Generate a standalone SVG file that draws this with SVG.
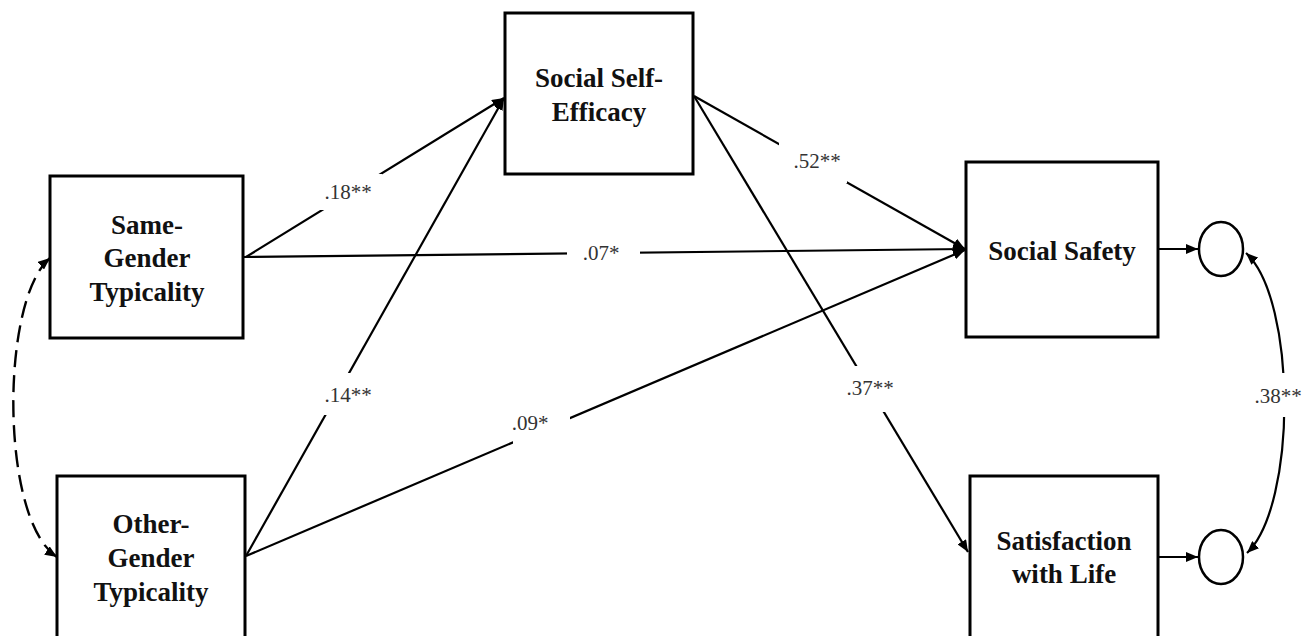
<svg xmlns="http://www.w3.org/2000/svg" width="1307" height="636" viewBox="0 0 1307 636">
<style>
.box{fill:#fff;stroke:#000;stroke-width:3}
.nt{font-family:"Liberation Serif","Times New Roman",serif;font-weight:bold;font-size:27px;fill:#111;text-anchor:middle}
.lbl{font-family:"Liberation Serif","Times New Roman",serif;font-size:21px;fill:#333;text-anchor:middle}
.ln{fill:none;stroke:#000;stroke-width:2.2}
.dash{fill:none;stroke:#000;stroke-width:2.4;stroke-dasharray:17 8}
.bg{fill:#fff;stroke:none}
.circ{fill:#fff;stroke:#000;stroke-width:2.5}
</style>
<defs>
<marker id="ah" viewBox="0 0 12 10" refX="12" refY="5" markerWidth="12" markerHeight="10" markerUnits="userSpaceOnUse" orient="auto-start-reverse">
<path d="M0,0 L12,5 L0,10 z" fill="#000"/>
</marker>
</defs>
<rect width="1307" height="636" fill="#fff"/>
<g id="connectors">
<line class="ln" x1="246" y1="257" x2="504" y2="98" marker-end="url(#ah)"/>
<line class="ln" x1="246" y1="556" x2="504" y2="98" marker-end="url(#ah)"/>
<line class="ln" x1="244" y1="257" x2="965" y2="249" marker-end="url(#ah)"/>
<line class="ln" x1="246" y1="556" x2="965" y2="250" marker-end="url(#ah)"/>
<line class="ln" x1="694" y1="96" x2="965" y2="249" marker-end="url(#ah)"/>
<line class="ln" x1="694" y1="96" x2="968" y2="552" marker-end="url(#ah)"/>
<line class="ln" x1="1158" y1="249" x2="1198" y2="249" marker-end="url(#ah)"/>
<line class="ln" x1="1158" y1="557" x2="1198" y2="557" marker-end="url(#ah)"/>
<path class="ln" d="M1246,253 C1297,300 1297,505 1247,553" marker-start="url(#ah)" marker-end="url(#ah)"/>
<path class="dash" d="M50,258 C0,300 0,520 57,557" marker-start="url(#ah)" marker-end="url(#ah)"/>
<rect class="bg" x="317" y="174" width="65" height="36"/>
<rect class="bg" x="567" y="240" width="73" height="28"/>
<rect class="bg" x="322" y="373" width="52" height="42"/>
<rect class="bg" x="513" y="416" width="57" height="28"/>
<rect class="bg" x="779" y="143" width="68" height="40"/>
<rect class="bg" x="842" y="366" width="56" height="46"/>
<rect class="bg" x="1252" y="373" width="54" height="44"/>
<text class="lbl" x="348" y="199">.18**</text>
<text class="lbl" x="601" y="260">.07*</text>
<text class="lbl" x="348" y="402">.14**</text>
<text class="lbl" x="530" y="430">.09*</text>
<text class="lbl" x="817" y="168">.52**</text>
<text class="lbl" x="870" y="395">.37**</text>
<text class="lbl" x="1278" y="403">.38**</text>
</g>
<g id="same-gender">
<rect class="box" x="50" y="176" width="193" height="162"/>
<text class="nt" x="147" y="234">Same-</text>
<text class="nt" x="147" y="267">Gender</text>
<text class="nt" x="147" y="301">Typicality</text>
</g>
<g id="other-gender">
<rect class="box" x="57" y="476" width="188" height="164"/>
<text class="nt" x="151" y="533">Other-</text>
<text class="nt" x="151" y="567">Gender</text>
<text class="nt" x="151" y="601">Typicality</text>
</g>
<g id="social-self-efficacy">
<rect class="box" x="505" y="13" width="188" height="161"/>
<text class="nt" x="599" y="87">Social Self-</text>
<text class="nt" x="599" y="121">Efficacy</text>
</g>
<g id="social-safety">
<rect class="box" x="966" y="162" width="192" height="175"/>
<text class="nt" x="1062" y="260">Social Safety</text>
</g>
<g id="satisfaction">
<rect class="box" x="970" y="476" width="188" height="164"/>
<text class="nt" x="1064" y="550">Satisfaction</text>
<text class="nt" x="1064" y="583">with Life</text>
</g>
<g id="error-safety">
<ellipse class="circ" cx="1221" cy="249" rx="22" ry="27"/>
</g>
<g id="error-satisfaction">
<ellipse class="circ" cx="1221" cy="557" rx="22" ry="27"/>
</g>
</svg>
